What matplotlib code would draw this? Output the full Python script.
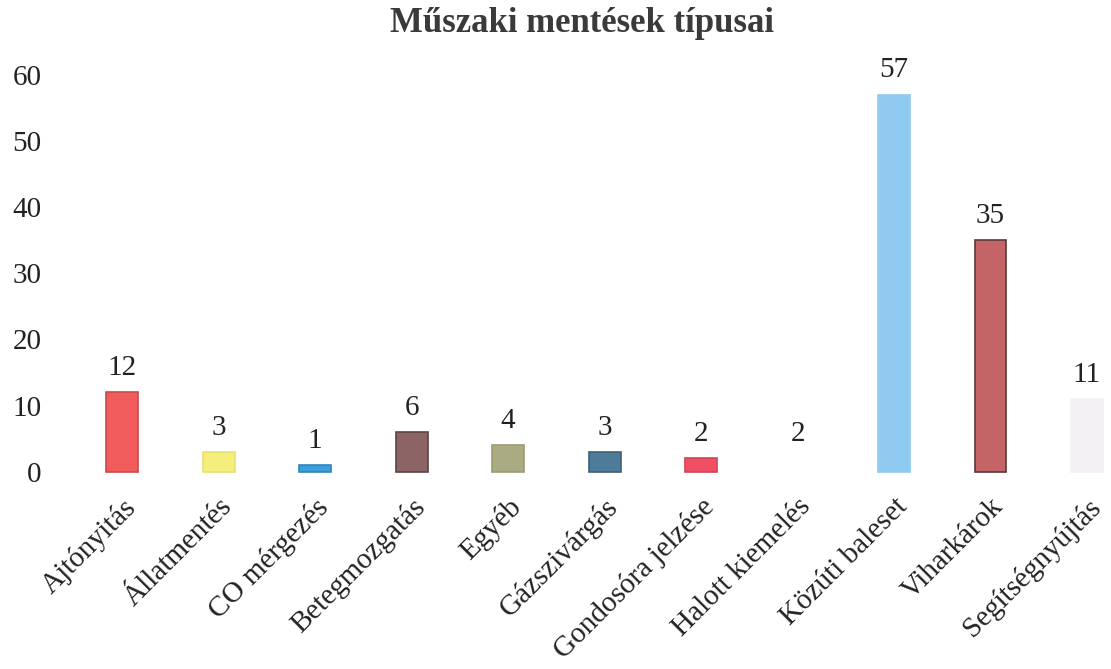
import matplotlib.pyplot as plt

tipusok = ["Ajtónyitás", "Állatmentés", "CO mérgezés", "Betegmozgatás", "Egyéb",
           "Gázszivárgás", "Gondosóra jelzése", "Halott kiemelés", "Közúti baleset",
           "Viharkárok", "Segítségnyújtás"]
esetek = [12, 3, 1, 6, 4, 3, 2, 2, 57, 35, 11]
szinek = ["#f25c5c", "#f4ef7c", "#3a9fd9", "#8c6466", "#a9ab82", "#4f7b9a",
          "#f15064", "#ffffff", "#8fcaf1", "#c46466", "#f3f1f4"]
keretek = ["#c94a4a", "#e8e070", "#2f86bd", "#5e4446", "#9c9c74", "#3d6078",
           "#d04456", "#ffffff", "#8fcaf1", "#5a3a3a", "#f3f1f4"]

plt.rcParams['font.family'] = ['Liberation Serif', 'DejaVu Serif']

fig = plt.figure(figsize=(11.11, 6.69), dpi=100)
ax = fig.add_axes([0.071, 0.283, 0.929, 0.643])

x = list(range(len(tipusok)))
ax.bar(x, esetek, width=0.33, color=szinek, edgecolor=keretek, linewidth=1.2)

for xi, v in zip(x, esetek):
    ax.annotate(str(v), (xi, v), xytext=(0, 8), textcoords="offset points",
                ha="center", va="bottom", fontsize=21, color="#222222")

ax.set_xlim(-0.45, 10.25)
ax.set_ylim(-1.2, 63.8)
ax.set_yticks([0, 10, 20, 30, 40, 50, 60])
ax.set_xticks(x)
ax.set_xticklabels(tipusok, rotation=45, ha="right", rotation_mode="anchor")
ax.tick_params(axis="both", length=0, labelsize=21, colors="#222222")
ax.tick_params(axis="y", pad=27)
ax.tick_params(axis="x", pad=10)
for s in ax.spines.values():
    s.set_visible(False)

fig.suptitle("Műszaki mentések típusai", fontsize=25, fontweight="bold",
             color="#3a3a3a", x=0.524, y=0.99)

plt.savefig("out.png", dpi=100)
